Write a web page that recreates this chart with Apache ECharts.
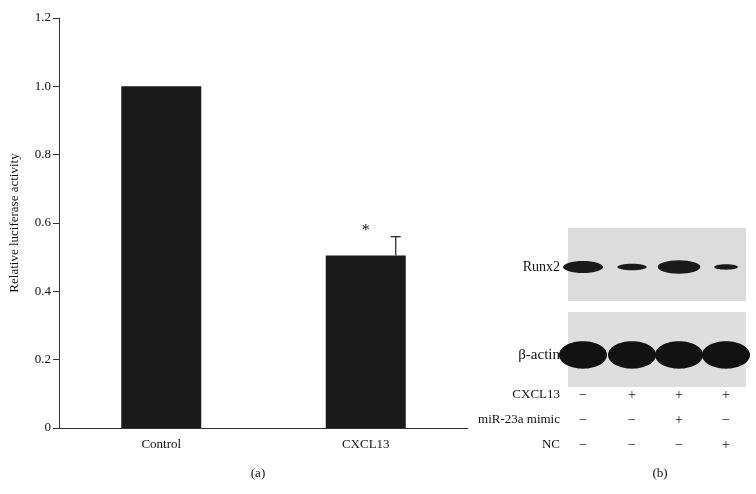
<!DOCTYPE html><html><head><meta charset="utf-8"><script src="https://cdn.jsdelivr.net/npm/echarts@6/dist/echarts.min.js"></script>
<style>body{margin:0}#c{width:756px;height:494px}</style></head><body><div id="c"></div><script>
const categories=['Control','CXCL13'];
const values=[1.0,0.505];
const errors=[0,0.055];
const yTicks=['0','0.2','0.4','0.6','0.8','1.0','1.2'];
const rowLabels=['CXCL13','miR-23a mimic','NC'];
const signs=[['−','+','+','+'],['−','−','+','−'],['−','−','−','+']];
const runx2=[[30,9],[22,5],[32,10],[18,4]];
const actin=[[33,16],[33,16],[33,16],[33,16]];
const ff='Liberation Serif';
const chart=echarts.init(document.getElementById('c'));
const laneX=[583,632,679,726];
const g=[];
g.push({type:'rect',shape:{x:568,y:228,width:178,height:73},style:{fill:'#dcdcdc'}});
g.push({type:'rect',shape:{x:568,y:312,width:178,height:75},style:{fill:'#dedede'}});
laneX.forEach((x,i)=>{
 g.push({type:'ellipse',shape:{cx:x,cy:267,rx:runx2[i][0]/1.5,ry:runx2[i][1]/1.5},style:{fill:'#1a1a1a'}});
 g.push({type:'ellipse',shape:{cx:x,cy:355,rx:actin[i][0]/1.5+2,ry:actin[i][1]/1.5+3},style:{fill:'#111'}});
});
g.push({type:'text',style:{text:'Runx2',x:560,y:267,align:'right',verticalAlign:'middle',font:'14px "Liberation Serif"',fill:'#111'}});
g.push({type:'text',style:{text:'β-actin',x:560,y:355,align:'right',verticalAlign:'middle',font:'15px "Liberation Serif"',fill:'#111'}});
const rowY=[395,420,445];
rowLabels.forEach((l,r)=>{
 g.push({type:'text',style:{text:l,x:560,y:rowY[r],align:'right',verticalAlign:'middle',font:'13px "Liberation Serif"',fill:'#111'}});
 signs[r].forEach((s,i)=>g.push({type:'text',style:{text:s,x:laneX[i],y:rowY[r],align:'center',verticalAlign:'middle',font:'14px "Liberation Serif"',fill:'#111'}}));
});
g.push({type:'text',style:{text:'(a)',x:258,y:474,align:'center',verticalAlign:'middle',font:'13px "Liberation Serif"',fill:'#111'}});
g.push({type:'text',style:{text:'(b)',x:660,y:474,align:'center',verticalAlign:'middle',font:'13px "Liberation Serif"',fill:'#111'}});
chart.setOption({
 animation:false,
 grid:{left:58,right:288,top:18,bottom:66},
 xAxis:{type:'category',data:categories,axisLine:{lineStyle:{color:'#333'}},axisTick:{inside:true,length:6,lineStyle:{color:'#333'}},axisLabel:{color:'#111',fontFamily:ff,fontSize:13,margin:10}},
 yAxis:{type:'value',min:0,max:1.2,interval:0.2,name:'Relative luciferase activity',nameLocation:'middle',nameGap:38,nameTextStyle:{fontFamily:ff,fontSize:13,color:'#111'},
  axisLine:{show:true,lineStyle:{color:'#333'}},axisTick:{show:true,length:6,lineStyle:{color:'#333'}},splitLine:{show:false},
  axisLabel:{color:'#111',fontFamily:ff,fontSize:13,formatter:v=>yTicks[Math.round(v/0.2)]}},
 series:[{type:'bar',data:values,barWidth:80,itemStyle:{color:'#1a1a1a'}},
 {type:'custom',data:values.map((v,i)=>[i,v,errors[i]]),renderItem:(p,api)=>{
   const e=api.value(2); if(!e) return null;
   const b=api.coord([api.value(0),api.value(1)]), t=api.coord([api.value(0),api.value(1)+e]);
   return {type:'group',children:[
    {type:'line',shape:{x1:b[0]+30,y1:b[1],x2:b[0]+30,y2:t[1]},style:{stroke:'#1a1a1a',lineWidth:1.2}},
    {type:'line',shape:{x1:b[0]+25,y1:t[1],x2:b[0]+35,y2:t[1]},style:{stroke:'#1a1a1a',lineWidth:1.2}},
    {type:'text',style:{text:'*',x:b[0],y:t[1]+2,align:'center',verticalAlign:'bottom',font:'16px "Liberation Serif"',fill:'#111'}}]};
 }}],
 graphic:g
});
</script></body></html>
